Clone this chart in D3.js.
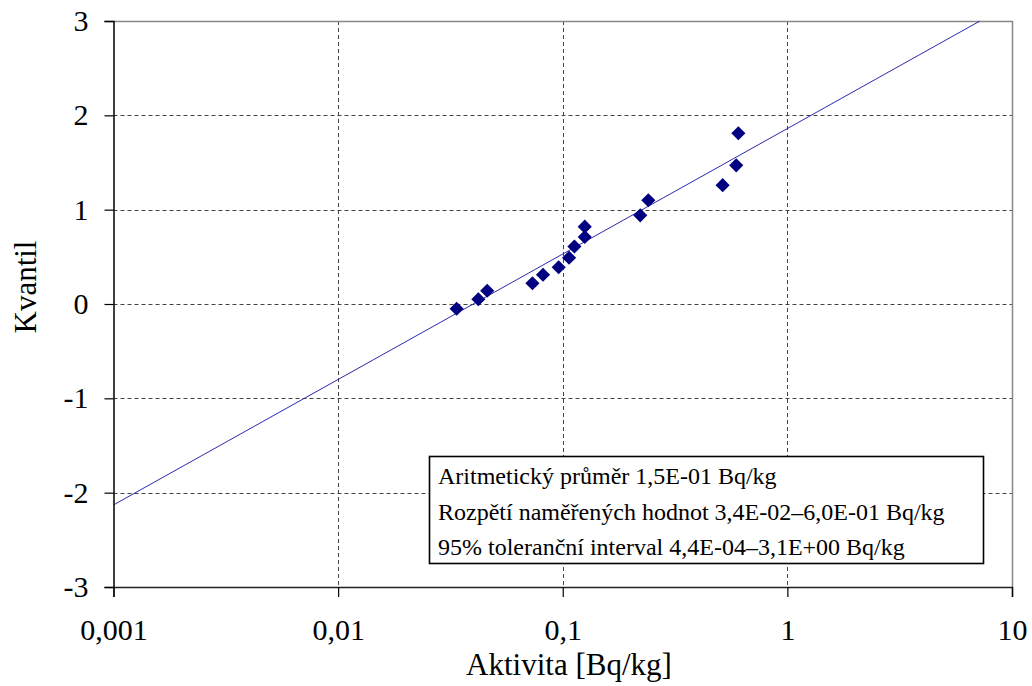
<!DOCTYPE html>
<html lang="cs">
<head>
<meta charset="UTF-8">
<title>Kvantil vs Aktivita</title>
<script src="https://d3js.org/d3.v7.min.js"></script>
<style>
  body { margin: 0; background: #fff; }
  svg text { font-family: "Liberation Serif", "Times New Roman", serif; }
</style>
</head>
<body>
<svg width="1032" height="686"></svg>
<script>
// measured activities [Bq/kg] and their normal quantiles
const activity = [0.0337, 0.0421, 0.0461, 0.0733, 0.0817, 0.0959, 0.1067, 0.1127,
                  0.1253, 0.1253, 0.2213, 0.2404, 0.515, 0.592, 0.605];
const quantile = [-0.05, 0.05, 0.14, 0.22, 0.31, 0.39, 0.49, 0.61,
                  0.71, 0.82, 0.94, 1.10, 1.26, 1.47, 1.81];

// fitted line: quantile = fitIntercept + fitSlope * log10(activity)
const fitIntercept = 1.86;
const fitSlope = 1.33;

const xTicks = [0.001, 0.01, 0.1, 1, 10];
const xTickLabels = ["0,001", "0,01", "0,1", "1", "10"];
const yTicks = [-3, -2, -1, 0, 1, 2, 3];

const legendLines = [
  "Aritmetický průměr 1,5E-01 Bq/kg",
  "Rozpětí naměřených hodnot 3,4E-02–6,0E-01 Bq/kg",
  "95% toleranční interval 4,4E-04–3,1E+00 Bq/kg"
];

const svg = d3.select("svg");
const pLeft = 113.5, pRight = 1012, pTop = 21, pBottom = 587;

const x = d3.scaleLog().domain([0.001, 10]).range([pLeft, pRight]);
const y = d3.scaleLinear().domain([-3, 3]).range([pBottom, pTop]);

// gridlines
svg.append("g")
  .selectAll("line")
  .data(yTicks.filter(d => d > -3 && d < 3))
  .join("line")
  .attr("x1", pLeft).attr("x2", pRight)
  .attr("y1", d => Math.round(y(d)) + 0.5).attr("y2", d => Math.round(y(d)) + 0.5)
  .attr("stroke", "#444").attr("stroke-dasharray", "4,3");

svg.append("g")
  .selectAll("line")
  .data(xTicks.slice(1, -1))
  .join("line")
  .attr("x1", d => Math.round(x(d)) + 0.5).attr("x2", d => Math.round(x(d)) + 0.5)
  .attr("y1", pTop).attr("y2", pBottom)
  .attr("stroke", "#444").attr("stroke-dasharray", "4,3");

// top and right frame
svg.append("path")
  .attr("d", `M${pLeft},${pTop + 0.5}H${pRight + 0.5}V${pBottom}`)
  .attr("fill", "none").attr("stroke", "#888").attr("stroke-width", 1.5);

// fit line
svg.append("clipPath").attr("id", "plotclip")
  .append("rect").attr("x", pLeft).attr("y", pTop)
  .attr("width", pRight - pLeft).attr("height", pBottom - pTop);
const fitX = [0.001, Math.pow(10, (3 - fitIntercept) / fitSlope)];
svg.append("line")
  .attr("clip-path", "url(#plotclip)")
  .attr("x1", x(fitX[0])).attr("y1", y(fitIntercept + fitSlope * Math.log10(fitX[0])))
  .attr("x2", x(fitX[1])).attr("y2", y(fitIntercept + fitSlope * Math.log10(fitX[1])))
  .attr("stroke", "#2b2bb0").attr("stroke-width", 1);

// axes
const yAxis = svg.append("g")
  .attr("transform", `translate(${pLeft},0)`)
  .call(d3.axisLeft(y).tickValues(yTicks).tickSize(9).tickPadding(16).tickFormat(d => String(d)));
const xAxis = svg.append("g")
  .attr("transform", `translate(0,${pBottom})`)
  .call(d3.axisBottom(x).tickValues(xTicks).tickSize(10).tickPadding(22)
    .tickFormat((d, i) => xTickLabels[i]));

[yAxis, xAxis].forEach(g => {
  g.attr("font-family", null);
  g.select(".domain").attr("stroke", "#000").attr("stroke-width", 1.5);
  g.selectAll(".tick line").attr("stroke", "#000").attr("stroke-width", 1.2);
  g.selectAll(".tick text")
    .attr("fill", "#000")
    .style("font-size", "30px");
});
xAxis.selectAll(".tick text").attr("dy", "0.71em");
xAxis.select(".domain").attr("stroke", "#222");

// data points (diamonds)
svg.append("g")
  .selectAll("path")
  .data(activity.map((a, i) => [a, quantile[i]]))
  .join("path")
  .attr("d", d3.symbol(d3.symbolSquare, 100))
  .attr("transform", d => `translate(${x(d[0])},${y(d[1])}) rotate(45)`)
  .attr("fill", "#000080");

// legend box
const lg = svg.append("g");
lg.append("rect")
  .attr("x", 429.5).attr("y", 456.5).attr("width", 554).attr("height", 107)
  .attr("fill", "#fff").attr("stroke", "#000").attr("stroke-width", 1.6);
lg.selectAll("text")
  .data(legendLines)
  .join("text")
  .attr("x", 438)
  .attr("y", (d, i) => 484 + i * 35.5)
  .style("font-size", "24px")
  .text(d => d);

// axis titles
svg.append("text")
  .attr("x", 569).attr("y", 675)
  .attr("text-anchor", "middle")
  .style("font-size", "31px")
  .text("Aktivita [Bq/kg]");

svg.append("text")
  .attr("transform", "translate(36,287) rotate(-90)")
  .attr("text-anchor", "middle")
  .style("font-size", "31px")
  .text("Kvantil");
</script>
</body>
</html>
